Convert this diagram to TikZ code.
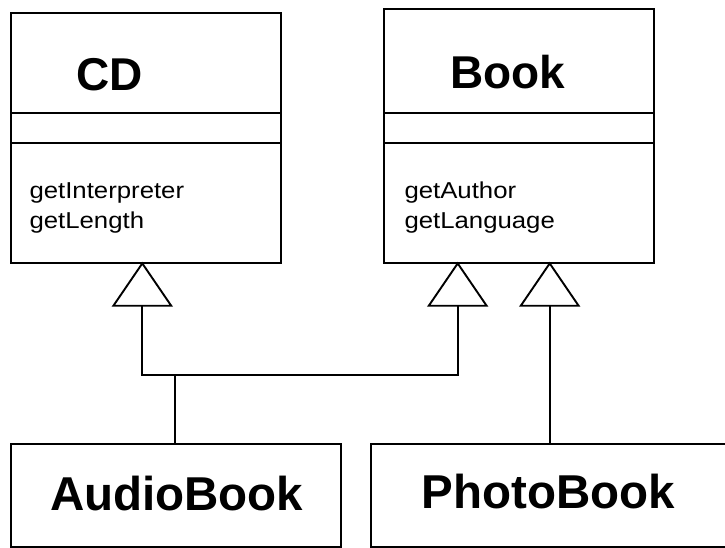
\documentclass[tikz,border=0pt]{standalone}
\usepackage{fontspec}
\setmainfont{Liberation Sans}
\newfontfamily\methfont[FakeStretch=1.12]{Liberation Sans}
\usetikzlibrary{arrows.meta}
\begin{document}
\begin{tikzpicture}[x=1pt,y=-1pt,
  box/.style={draw, line width=2pt, inner sep=0pt, anchor=north west},
  sep/.style={line width=2pt},
  title/.style={anchor=base, font=\fontsize{46}{46}\selectfont\bfseries},
  big/.style={anchor=base, font=\fontsize{47.5}{48}\selectfont\bfseries},
  meth/.style={anchor=base west, inner sep=0pt, font=\fontsize{23}{30}\methfont},
  conn/.style={line width=1.9pt},
  inh/.style={conn, -{Triangle[open, length=45pt, width=61pt]}}]
\useasboundingbox (0,0) rectangle (725,547);
% class boxes
\node[box, minimum width=269.5pt, minimum height=250pt] (cd) at (10,11.7) {};
\node[box, minimum width=269.7pt, minimum height=254.2pt] (book) at (383,7.5) {};
\draw[sep] (cd.west |- 0,113.3) -- (cd.east |- 0,113.3);
\draw[sep] (cd.west |- 0,142.7) -- (cd.east |- 0,142.7);
\draw[sep] (book.west |- 0,113.3) -- (book.east |- 0,113.3);
\draw[sep] (book.west |- 0,142.7) -- (book.east |- 0,142.7);
\node[title] (cdname) at (110,90.7) {CD};
\node[title] (bookname) at (508,88.3) {Book};
\node[meth] (m1) at (29.3,198.3) {getInterpreter};
\node[meth] (m2) at (29.3,228.3) {getLength};
\node[meth] (m3) at (404.3,198.3) {getAuthor};
\node[meth] (m4) at (404.3,228.3) {getLanguage};
% subclasses
\node[box, minimum width=330pt, minimum height=103.3pt] (audio) at (10,442.7) {};
\node[box, minimum width=365pt, minimum height=103.3pt] (photo) at (370,442.7) {};
\node[big] (audioname) at (176.7,510) {AudioBook};
\node[big] (photoname) at (548.3,508) {PhotoBook};
% connectors
\coordinate (j) at (175,375);
\coordinate (cdt) at (142.3,261.7);
\coordinate (bkt1) at (457.7,261.7);
\coordinate (bkt2) at (549.7,261.7);
\draw[conn] (audio.north -| j) -- (j);
\draw[inh] (j) -| (cdt);
\draw[inh] (j) -| (bkt1);
\draw[inh] (photo.north -| bkt2) -- (bkt2);
\end{tikzpicture}
\end{document}
